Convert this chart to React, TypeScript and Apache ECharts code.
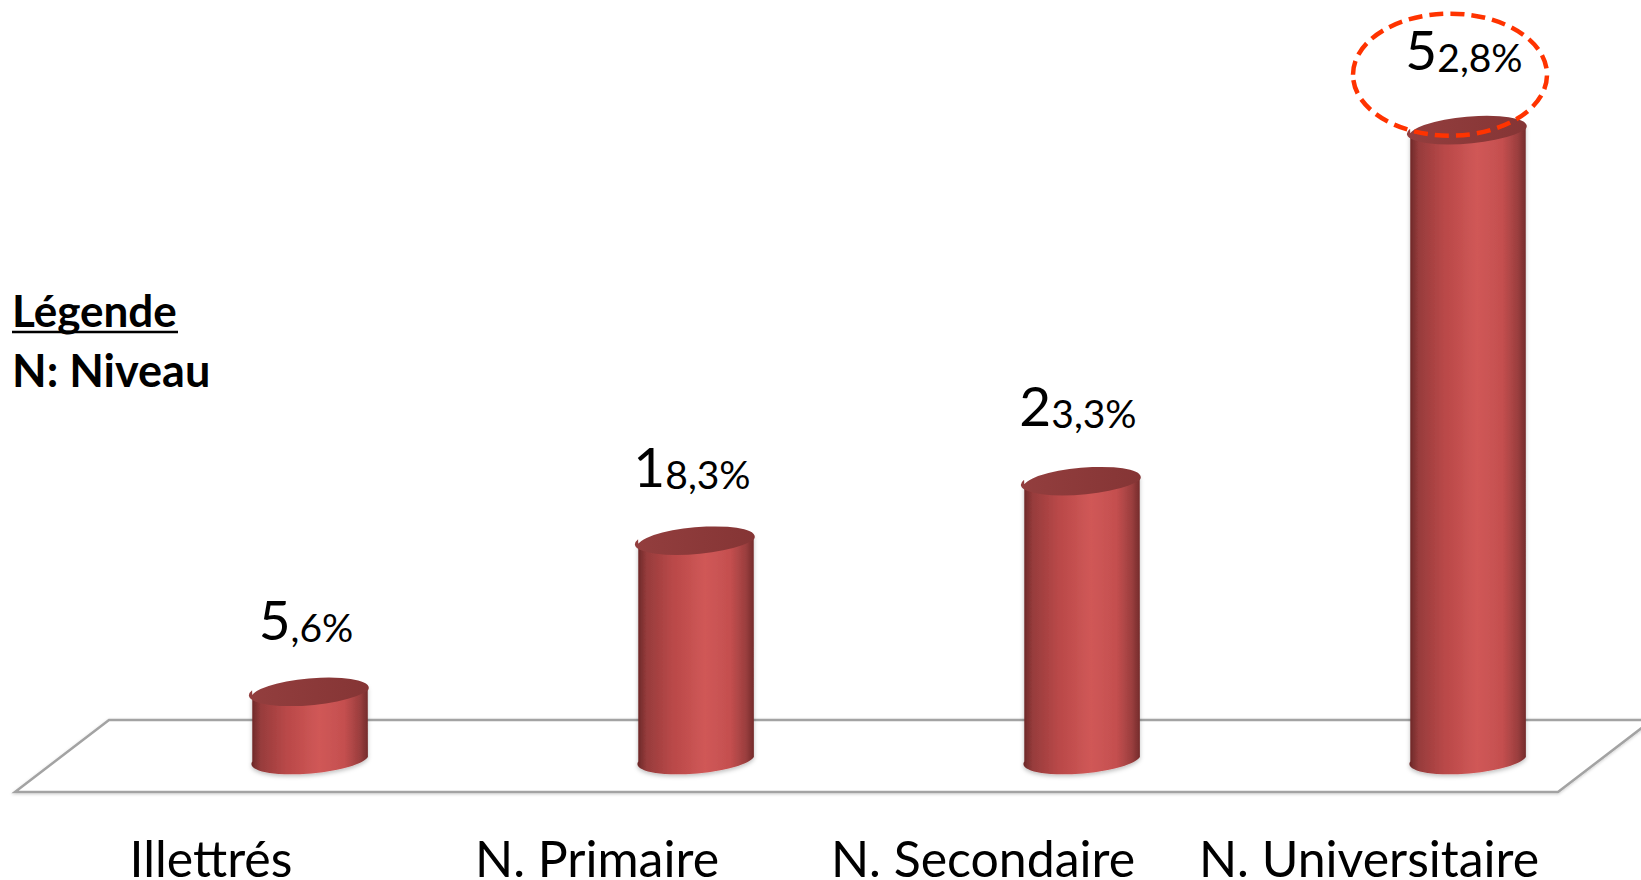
import React, { useEffect, useRef } from "react";
import * as echarts from "echarts";

// Education level distribution (percent)
const categories = ["Illettrés", "N. Primaire", "N. Secondaire", "N. Universitaire"];
const values = [5.6, 18.3, 23.3, 52.8];
const yMin = 0;
const yMax = 60;
const legendTitle = "Légende";
const legendLine = "N: Niveau";

const FONT = "Lato, 'Noto Sans', sans-serif";
const TILT_DEG = 4.5;

// "52,8%" -> first character large, remainder smaller
function formatValue(v: number): string {
  const s = v.toFixed(1).replace(".", ",") + "%";
  return `{b|${s.charAt(0)}}{s|${s.slice(1)}}`;
}

export default function App() {
  const ref = useRef<HTMLDivElement>(null);

  useEffect(() => {
    if (!ref.current) return;
    const chart = echarts.init(ref.current, undefined, { renderer: "svg" });
    const maxVal = Math.max(...values);
    const tilt = (TILT_DEG * Math.PI) / 180;

    const renderItem = (_params: any, api: any) => {
      const idx = api.value(0);
      const v = api.value(1);
      const base = api.coord([idx, 0]);
      const top = api.coord([idx, v]);
      const band = api.size([1, 0])[0];
      const rx = band * 0.15;
      const ry = 14;
      const cx = base[0];
      const dx = rx * Math.cos(tilt);
      const dy = rx * Math.sin(tilt);
      const yb = base[1];
      const yt = top[1];
      const deg = -TILT_DEG;

      const body =
        `M${cx - dx},${yt + dy} L${cx - dx},${yb + dy} ` +
        `A${rx},${ry},${deg},0,0,${cx + dx},${yb - dy} ` +
        `L${cx + dx},${yt - dy} Z`;
      const cap =
        `M${cx - dx},${yt + dy} A${rx},${ry},${deg},0,1,${cx + dx},${yt - dy} ` +
        `A${rx},${ry},${deg},0,1,${cx - dx},${yt + dy} Z`;

      // label sits a little further above taller cylinders (perspective)
      const labelGap = 43 + 0.014 * (yb - yt);

      const children: any[] = [
        {
          type: "path",
          shape: { pathData: body },
          style: {
            fill: {
              type: "linear",
              x: 0, y: 0, x2: 1, y2: 0,
              colorStops: [
                { offset: 0, color: "#6a2626" },
                { offset: 0.08, color: "#973c3c" },
                { offset: 0.3, color: "#b94848" },
                { offset: 0.58, color: "#d05857" },
                { offset: 0.8, color: "#c44f4f" },
                { offset: 0.93, color: "#9b3e3e" },
                { offset: 1, color: "#742c2c" },
              ],
            },
            shadowBlur: 4,
            shadowColor: "rgba(0,0,0,0.25)",
            shadowOffsetY: 2,
          },
        },
        {
          type: "path",
          shape: { pathData: cap },
          style: {
            fill: {
              type: "linear",
              x: 0, y: 0, x2: 1, y2: 0,
              colorStops: [
                { offset: 0, color: "#933e3e" },
                { offset: 1, color: "#853535" },
              ],
            },
          },
        },
        {
          type: "text",
          style: {
            x: cx - 4,
            y: yt - labelGap,
            text: formatValue(v),
            align: "center",
            verticalAlign: "bottom",
            fill: "#000",
            rich: {
              b: { fontSize: 55, lineHeight: 55, fontFamily: FONT, fill: "#000", verticalAlign: "bottom" },
              s: { fontSize: 39, lineHeight: 39, fontFamily: FONT, fill: "#000", verticalAlign: "bottom" },
            },
          },
        },
      ];

      if (v === maxVal) {
        children.push({
          type: "ellipse",
          shape: { cx: cx - 18, cy: yt - 54, rx: 97, ry: 61 },
          style: { fill: "none", stroke: "#ff3300", lineWidth: 4.5, lineDash: [14, 7] },
        });
      }

      return { type: "group", children };
    };

    chart.setOption({
      animation: false,
      backgroundColor: "#ffffff",
      grid: {
        left: 117,
        top: 43,
        width: 1544,
        height: 714,
        containLabel: false,
        outerBoundsMode: "none",
      },
      xAxis: {
        type: "category",
        data: categories,
        axisLine: { show: false },
        axisTick: { show: false },
        splitLine: { show: false },
        axisLabel: {
          interval: 0,
          margin: 84,
          fontSize: 50,
          lineHeight: 34,
          fontFamily: FONT,
          color: "#000",
          padding: [0, 198, 0, 0],
        },
      },
      yAxis: {
        type: "value",
        min: yMin,
        max: yMax,
        show: false,
      },
      graphic: [
        {
          type: "polygon",
          silent: true,
          z: 0,
          shape: { points: [[109, 720], [1652, 720], [1558, 792], [15, 792]] },
          style: {
            fill: "#ffffff",
            stroke: "#a3a3a3",
            lineWidth: 2.5,
            shadowBlur: 3,
            shadowColor: "rgba(0,0,0,0.2)",
            shadowOffsetY: 1,
          },
        },
        {
          type: "text",
          x: 12,
          y: 310,
          style: {
            text: legendTitle,
            font: `bold 44px ${FONT}`,
            fill: "#000",
            align: "left",
            verticalAlign: "middle",
          },
        },
        {
          type: "line",
          shape: { x1: 12, y1: 332, x2: 178, y2: 332 },
          style: { stroke: "#000", lineWidth: 2.5 },
        },
        {
          type: "text",
          x: 12,
          y: 370,
          style: {
            text: legendLine,
            font: `bold 45px ${FONT}`,
            fill: "#000",
            align: "left",
            verticalAlign: "middle",
          },
        },
      ],
      series: [
        {
          type: "custom",
          renderItem,
          clip: false,
          encode: { x: 0, y: 1 },
          data: values.map((v, i) => [i, v]),
          z: 2,
        },
      ],
    });

    return () => chart.dispose();
  }, []);

  return (
    <div
      ref={ref}
      style={{ position: "fixed", left: 0, top: 0, width: 1641, height: 880, background: "#fff" }}
    />
  );
}
